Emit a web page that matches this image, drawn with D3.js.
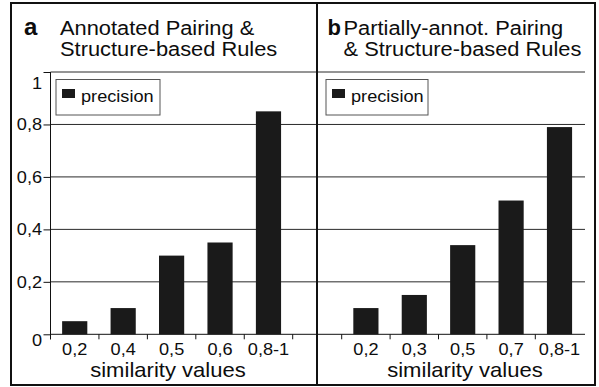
<!DOCTYPE html>
<html>
<head>
<meta charset="utf-8">
<script src="https://cdn.jsdelivr.net/npm/d3@7"></script>
<style>
  html, body { margin: 0; padding: 0; background: #fff; }
  svg { display: block; font-family: "Liberation Sans", Arial, Helvetica, sans-serif; }
</style>
</head>
<body>
<svg id="chart" width="599" height="387"></svg>
<script>
// Precision per similarity bin, two rule settings
const catsA = ["0,2", "0,4", "0,5", "0,6", "0,8-1"];
const valsA = [0.05, 0.10, 0.30, 0.35, 0.85];
const catsB = ["0,2", "0,3", "0,5", "0,7", "0,8-1"];
const valsB = [0.10, 0.15, 0.34, 0.51, 0.79];
const yTicks = [0, 0.2, 0.4, 0.6, 0.8, 1];
const titleA = ["Annotated Pairing &", "Structure-based Rules"];
const titleB = ["Partially-annot. Pairing", "& Structure-based Rules"];
const legendLabel = "precision";
const xLabel = "similarity values";

const svg = d3.select("#chart");
const barColor = "#1a1a1a";
const ink = "#0d0d0d";
const fmt = d => String(d).replace(".", ",");

const y = d3.scaleLinear().domain([0, 1]).range([334.3, 72]);

function stretch(node, k) {
  const w = node.getComputedTextLength();
  node.setAttribute("textLength", w * k);
  node.setAttribute("lengthAdjust", "spacingAndGlyphs");
}

function panel(cfg) {
  const g = svg.append("g");
  const x = d3.scaleBand().domain(cfg.cats).range(cfg.xRange)
    .paddingInner(0.48).paddingOuter(0.24);

  // horizontal grid
  g.append("g").selectAll("line").data(yTicks.slice(1)).join("line")
    .attr("x1", cfg.gridX[0]).attr("x2", cfg.gridX[1])
    .attr("y1", d => y(d)).attr("y2", d => y(d))
    .attr("stroke", "#2a2a2a").attr("stroke-width", 1);

  // baseline
  g.append("line")
    .attr("x1", cfg.gridX[0]).attr("x2", cfg.gridX[1])
    .attr("y1", y(0)).attr("y2", y(0))
    .attr("stroke", "#111").attr("stroke-width", 1);

  // bars
  g.append("g").selectAll("rect").data(cfg.vals).join("rect")
    .attr("x", (d, i) => x(cfg.cats[i]))
    .attr("width", x.bandwidth())
    .attr("y", d => y(d))
    .attr("height", d => y(0) - y(d))
    .attr("fill", barColor);

  // category boundary ticks
  const nb = cfg.lastTick ? cfg.cats.length + 1 : cfg.cats.length;
  g.append("g").selectAll("line").data(d3.range(nb)).join("line")
    .attr("x1", i => cfg.xRange[0] + i * x.step())
    .attr("x2", i => cfg.xRange[0] + i * x.step())
    .attr("y1", y(0)).attr("y2", y(0) + 5)
    .attr("stroke", "#111").attr("stroke-width", 1);

  // category labels
  const xAxis = g.append("g")
    .attr("transform", `translate(0,${y(0)})`)
    .call(d3.axisBottom(x).tickSize(0).tickPadding(9));
  xAxis.select(".domain").remove();
  xAxis.selectAll("text").attr("font-size", 16.5).attr("fill", ink)
    .attr("font-family", null)
    .each(function () { stretch(this, 1.1); });

  // axis title
  g.append("text")
    .attr("x", cfg.xLabelX).attr("y", 377)
    .attr("text-anchor", "middle").attr("font-size", 21).attr("fill", ink)
    .text(xLabel)
    .each(function () { stretch(this, 1.05); });

  // legend
  const lg = g.append("g").attr("transform", `translate(${cfg.legendX},79.5)`);
  lg.append("rect").attr("x", 0).attr("y", 0).attr("width", cfg.legendW).attr("height", 35.5)
    .attr("fill", "#fff").attr("stroke", "#555").attr("stroke-width", 1);
  lg.append("rect").attr("x", 6).attr("y", 9.5).attr("width", 13).attr("height", 9)
    .attr("fill", barColor);
  lg.append("text").attr("x", 25).attr("y", 22.3)
    .attr("font-size", 16.5).attr("fill", ink)
    .text(legendLabel)
    .each(function () { stretch(this, 1.1); });

  // heading: panel letter and a two-line title
  g.append("text").attr("x", cfg.letterX).attr("y", 35)
    .attr("font-size", cfg.letterSize).attr("font-weight", "bold").attr("fill", ink)
    .text(cfg.letter);
  const title = g.append("text").attr("font-size", 19.5).attr("fill", ink);
  cfg.title.forEach((t, i) => {
    title.append("tspan").attr("x", cfg.titleX).attr("y", 34.5 + i * 21.5).text(t)
      .each(function () { stretch(this, 1.12); });
  });
  return g;
}

const gA = panel({
  cats: catsA, vals: valsA, xRange: [50.5, 292.7], gridX: [50.5, 317],
  lastTick: true, xLabelX: 168, legendX: 56, legendW: 104,
  letter: "a", letterX: 24, letterSize: 24, title: titleA, titleX: 60
});
panel({
  cats: catsB, vals: valsB, xRange: [341.7, 583.7], gridX: [317, 585],
  lastTick: false, xLabelX: 465, legendX: 326, legendW: 102,
  letter: "b", letterX: 327.5, letterSize: 22, title: titleB, titleX: 343.5
});

// value axis of the left panel
const yAxis = gA.append("g")
  .attr("transform", "translate(50.5,0)")
  .call(d3.axisLeft(y).tickValues(yTicks).tickSize(7).tickPadding(1.5).tickFormat(fmt));
yAxis.select(".domain").remove();
yAxis.selectAll(".tick line").attr("stroke", "#111");
yAxis.selectAll("text").attr("font-size", 16.5).attr("fill", ink)
  .attr("font-family", null)
  .attr("dy", d => d === 1 ? "1.0em" : d === 0 ? "0.66em" : "0.32em")
  .each(function () { stretch(this, 1.1); });
gA.append("line")
  .attr("x1", 50.5).attr("x2", 50.5).attr("y1", y(1)).attr("y2", y(0) + 5)
  .attr("stroke", "#111").attr("stroke-width", 1);

// frame and panel divider
svg.append("rect").attr("x", 11).attr("y", 3).attr("width", 584).attr("height", 382)
  .attr("fill", "none").attr("stroke", "#111").attr("stroke-width", 2);
svg.append("line").attr("x1", 317).attr("x2", 317).attr("y1", 3).attr("y2", 385)
  .attr("stroke", "#111").attr("stroke-width", 2);
</script>
</body>
</html>
